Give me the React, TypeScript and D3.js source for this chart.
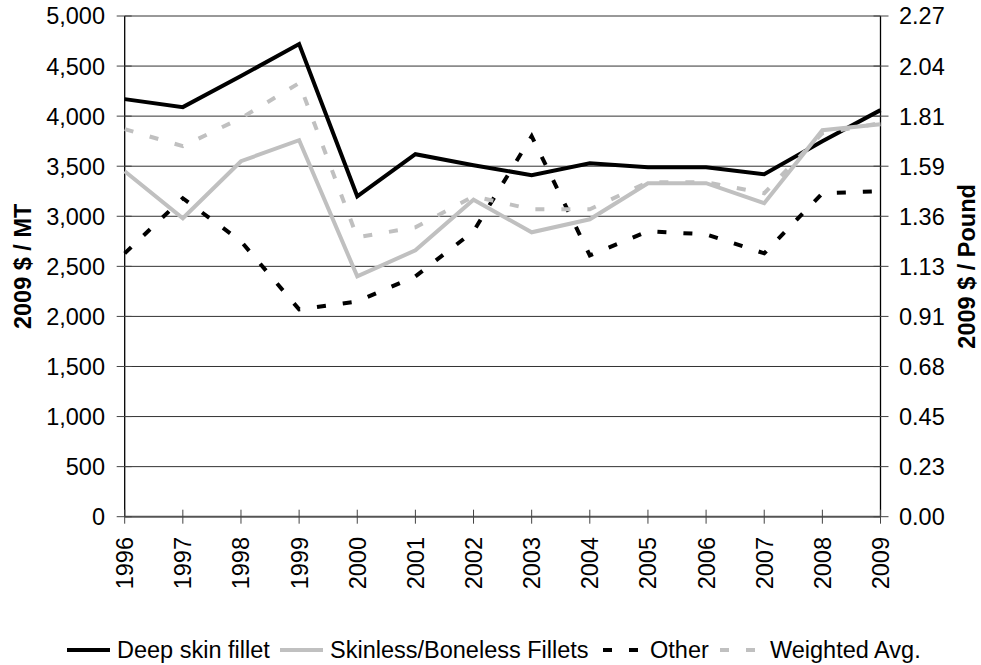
import React from "react";
import * as d3 from "d3";

const years = [1996, 1997, 1998, 1999, 2000, 2001, 2002, 2003, 2004, 2005, 2006, 2007, 2008, 2009];
const deepSkin = [4170, 4090, 4400, 4720, 3200, 3620, 3510, 3410, 3530, 3490, 3490, 3420, 3750, 4060];
const skinless = [3450, 2980, 3550, 3760, 2400, 2660, 3165, 2840, 2970, 3330, 3330, 3130, 3860, 3920];
const other = [2630, 3180, 2750, 2070, 2150, 2400, 2850, 3800, 2610, 2850, 2820, 2630, 3230, 3250];
const weighted = [3870, 3700, 3980, 4330, 2790, 2890, 3200, 3070, 3070, 3340, 3340, 3230, 3830, 3930];
const leftTicks = [0, 500, 1000, 1500, 2000, 2500, 3000, 3500, 4000, 4500, 5000];
const LB_PER_MT = 2204.62;

const seriesNames = ["Deep skin fillet", "Skinless/Boneless Fillets", "Other", "Weighted Avg."];
const seriesData = [deepSkin, skinless, other, weighted];

const styles = [
  { color: "#000000", dash: null },
  { color: "#c0c0c0", dash: null },
  { color: "#000000", dash: "9,17" },
  { color: "#c0c0c0", dash: "9,17" },
];

const W = 981, H = 665;
const X0 = 124.7, X1 = 880.5, Y0 = 516.7, Y1 = 16;
const FONT = "'Liberation Sans', Arial, sans-serif";
const FS = 23.5;

export default function App() {
  const x = d3.scaleLinear().domain([years[0], years[years.length - 1]]).range([X0, X1]);
  const y = d3.scaleLinear().domain([0, 5000]).range([Y0, Y1]);
  const line = d3.line<number>().x((_, i) => x(years[i])).y((d) => y(d));
  const fmtL = d3.format(",");
  const fmtR = d3.format(".2f");

  const legendItems = [
    { lx: 67, tx: 117 },
    { lx: 280, tx: 330 },
    { lx: 603, tx: 650 },
    { lx: 720, tx: 770 },
  ];
  const LY = 650;

  return (
    <svg width={W} height={H} style={{ position: "absolute", left: 0, top: 0, background: "#fff" }} fontFamily={FONT}>
      <rect width={W} height={H} fill="#fff" />
      {leftTicks.map((t) => (
        <line key={"g" + t} x1={X0} x2={X1} y1={y(t)} y2={y(t)} stroke={t === 0 ? "#555" : "#333"} strokeWidth={t === 0 ? 2 : 1} />
      ))}
      <line x1={X0} x2={X0} y1={Y1} y2={Y0} stroke="#000" strokeWidth={1.3} />
      <line x1={X1} x2={X1} y1={Y1} y2={Y0} stroke="#000" strokeWidth={1.3} />
      {leftTicks.map((t) => (
        <g key={"lt" + t}>
          <line x1={X0 - 8} x2={X0 + 7} y1={y(t)} y2={y(t)} stroke="#444" strokeWidth={1} />
          <line x1={X1 - 7} x2={X1 + 8} y1={y(t)} y2={y(t)} stroke="#444" strokeWidth={1} />
          <text x={105} y={y(t)} dy="0.36em" textAnchor="end" fontSize={FS} fill="#000">{fmtL(t)}</text>
          <text x={899} y={y(t)} dy="0.36em" textAnchor="start" fontSize={FS} fill="#000">{fmtR(t / LB_PER_MT)}</text>
        </g>
      ))}
      {years.map((yr) => (
        <g key={"xt" + yr}>
          <line x1={x(yr)} x2={x(yr)} y1={Y0 - 7} y2={Y0 + 7} stroke="#444" strokeWidth={1} />
          <text transform={`translate(${x(yr)},${537}) rotate(-90)`} dy="0.36em" textAnchor="end" fontSize={FS} fill="#000">{yr}</text>
        </g>
      ))}
      <text transform={`translate(23,${(Y0 + Y1) / 2}) rotate(-90)`} dy="0.36em" textAnchor="middle" fontSize={FS} fontWeight="bold">2009 $ / MT</text>
      <text transform={`translate(967,${(Y0 + Y1) / 2}) rotate(-90)`} dy="0.36em" textAnchor="middle" fontSize={FS} fontWeight="bold">2009 $ / Pound</text>
      {seriesData.map((s, i) => (
        <path key={"s" + i} d={line(s) || ""} fill="none" stroke={styles[i].color} strokeWidth={4} strokeDasharray={styles[i].dash || undefined} />
      ))}
      {seriesNames.map((n, i) => (
        <g key={"lg" + i}>
          <line x1={legendItems[i].lx} x2={legendItems[i].lx + 43} y1={LY} y2={LY} stroke={styles[i].color} strokeWidth={4} strokeDasharray={styles[i].dash || undefined} />
          <text x={legendItems[i].tx} y={LY} dy="0.36em" fontSize={FS} fill="#000">{n}</text>
        </g>
      ))}
    </svg>
  );
}
